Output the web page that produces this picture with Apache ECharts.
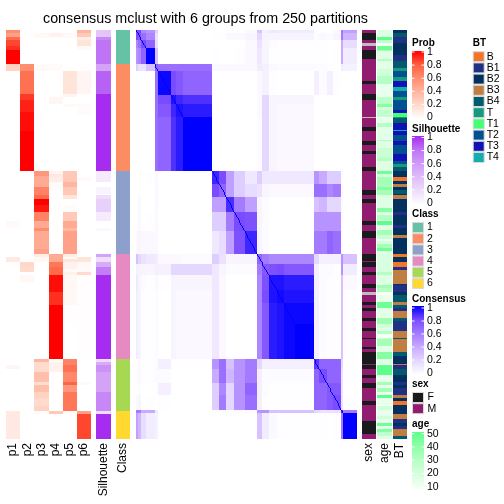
<!DOCTYPE html>
<html><head><meta charset="utf-8">
<script src="https://cdn.jsdelivr.net/npm/echarts@6/dist/echarts.min.js"></script>
<style>html,body{margin:0;padding:0;background:#fff}#c{width:504px;height:504px}</style>
</head><body><div id="c"></div>
<script>
// ---------- data: runs of [value, endRow] along the 250 sorted rows ----------
const p1=[[.6,2],[.5,4],[.75,6],[.85,10],[.9,12],[1,21],[.25,25],[0,117],[.03,121],[0,139],[.12,142],[0,205],[.05,207],[0,233],[.12,250]];
const p2=[[0,21],[.6,25],[.72,39],[.88,43],[.93,50],[.97,62],[1,86],[0,142],[.22,145],[.2,148],[0,150],[.04,154],[0,250]];
const p3=[[0,2],[.03,5],[0,21],[.03,25],[0,86],[.55,89],[.45,96],[.65,101],[.75,103],[1,107],[.95,111],[.65,117],[.45,121],[.6,123],[.45,134],[.5,137],[.1,139],[.04,142],[0,201],[.4,203],[.2,209],[.35,215],[.18,217],[.35,221],[.25,225],[.2,230],[.25,233],[.02,235],[0,250]];
const p4=[[0,2],[.08,4],[0,21],[.02,25],[0,41],[.05,45],[0,86],[.06,88],[.12,90],[.1,93],[.02,98],[0,137],[.45,142],[.7,145],[.75,150],[.97,160],[.9,168],[1,201],[0,203],[.08,209],[0,233],[.3,235],[0,250]];
const p5=[[0,2],[.03,5],[0,25],[.15,39],[.05,41],[0,45],[.03,47],[0,86],[.3,93],[.4,96],[.3,101],[.15,103],[0,107],[.02,111],[.3,117],[.45,121],[.38,123],[.5,137],[.1,139],[.03,140],[.15,142],[.07,146],[.03,148],[.08,150],[.04,168],[.01,180],[0,201],[.65,205],[.72,209],[.62,215],[.78,217],[.55,221],[.7,233],[.03,235],[0,250]];
const p6=[[.4,2],[.3,4],[.1,6],[.15,10],[.03,12],[0,21],[.01,25],[.05,39],[0,45],[.02,52],[0,90],[.03,92],[0,139],[.15,142],[.03,148],[.2,150],[.01,201],[0,215],[.03,217],[0,233],[.5,235],[.85,250]];
const silhouette=[[.35,4],[.7,6],[.8,21],[.55,25],[.85,39],[1,86],[.12,93],[0,96],[.07,100],[0,101],[.2,103],[.28,111],[.12,117],[0,121],[.05,123],[0,137],[.55,139],[.2,142],[.5,145],[.75,150],[1,201],[.2,203],[.5,205],[.65,209],[.55,221],[.7,233],[.2,235],[1,250]];
const classRuns=[[1,21],[2,86],[3,137],[4,201],[5,233],[6,250]];
const sexRuns=[['M',2],['F',6],['M',8],['NA',10],['M',12],['F',18],['M',31],['F',33],['M',39],['F',43],['M',53],['NA',54],['M',59],['F',62],['M',68],['F',70],['M',74],['F',76],['M',84],['F',86],['M',98],['F',101],['M',103],['F',106],['M',117],['F',119],['M',123],['F',127],['M',137],['F',141],['M',142],['F',145],['M',148],['F',150],['M',155],['F',158],['M',160],['NA',162],['M',166],['F',168],['M',170],['F',172],['M',176],['F',178],['M',182],['F',184],['M',188],['F',189],['M',194],['F',195],['M',197],['F',204],['M',205],['F',207],['M',211],['F',213],['M',216],['F',219],['M',227],['F',229],['M',239],['F',247],['M',250]];
const ageRuns=[[18,4],[50,6],[26,8],[0,10],[46,12],[34,13],[18,18],[30,19],[16,24],[22,28],[30,33],[14,41],[28,45],[42,47],[22,49],[26,53],[0,54],[14,57],[30,59],[16,67],[30,68],[18,72],[24,78],[30,80],[18,86],[46,88],[22,90],[34,96],[42,98],[34,101],[18,109],[42,111],[18,113],[30,116],[18,117],[50,119],[18,122],[34,125],[24,128],[12,129],[22,131],[34,133],[46,135],[18,137],[20,148],[30,150],[18,156],[36,158],[30,160],[0,162],[14,166],[46,170],[16,176],[36,180],[22,182],[18,184],[30,186],[0,188],[22,189],[34,193],[16,197],[42,201],[18,204],[10,205],[50,211],[14,215],[34,217],[14,219],[34,221],[14,223],[50,225],[14,229],[0,230],[22,232],[14,236],[22,238],[14,240],[46,242],[14,244],[42,246],[26,248],[18,250]];
const btRuns=[['B2',2],['B4',4],['B1',8],['B2',15],['B1',19],['B4',23],['T',25],['T2',29],['T',31],['T3',35],['T4',37],['T2',41],['T',43],['T2',49],['T3',51],['T1',53],['T',54],['B4',57],['T3',61],['T4',62],['T3',64],['T2',68],['T3',70],['T2',76],['T3',80],['T2',82],['T',84],['B4',86],['B2',90],['B',92],['B2',94],['B3',96],['B2',98],['B4',100],['B2',101],['B3',103],['B2',111],['B1',113],['B2',119],['B1',121],['B2',125],['B3',127],['B2',137],['B',139],['B2',142],['B',145],['B1',147],['B3',155],['B2',156],['B1',160],['B2',162],['B4',166],['B3',168],['B4',170],['B1',172],['B3',176],['B4',178],['B1',184],['B3',188],['B4',189],['B3',197],['B4',199],['B2',204],['B3',205],['B1',207],['B4',211],['B2',215],['B1',217],['B2',219],['B1',223],['B3',225],['B2',227],['B',229],['B2',235],['B3',238],['B1',240],['B2',242],['B1',244],['B3',248],['B4',250]];
const pNames=['p1','p2','p3','p4','p5','p6'];
const btNames=['B','B1','B2','B3','B4','T','T1','T2','T3','T4'];
const sexNames=['F','M'];
const classNames=['1','2','3','4','5','6'];
// consensus: end row of each block, then lower triangle of block-mean values
const blockEnds=[2,6,11,21,25,40,45,53,86,94,102,111,123,137,143,150,159,167,180,201,207,216,223,232,234,250];
const consensus=[
[.8],
[.8,.75],
[.55,.65,.8],
[.5,.55,.7,1],
[.25,.15,.15,.3,.7],
[0,0,0,0,.65,.98],
[0,0,0,0,.65,.8,.95],
[0,0,0,0,.65,.75,.9,.95],
[0,0,0,0,.65,.7,.87,.93,1],
[0,.01,0,.01,.03,0,0,0,0,.9],
[0,.01,0,0,.03,0,0,0,0,.8,.7],
[0,.03,0,0,.03,0,0,0,0,.45,.45,.88],
[0,.03,0,.01,.03,0,0,0,0,.25,.25,.6,.8],
[.03,.05,.03,.03,.03,0,0,0,0,.12,.18,.45,.78,.9],
[.3,.2,.15,.12,.1,.03,.03,.03,.02,.25,.15,.05,.05,.05,.7],
[.08,.06,.05,.05,.08,.07,.2,.2,.2,.12,.05,.02,.02,.02,.6,.75],
[.12,.05,.02,.01,.03,.01,.05,.05,.05,.12,.03,0,0,0,.55,.78,.95],
[.1,.06,.01,.01,.02,0,.05,.03,.03,.12,.03,0,0,0,.55,.8,.95,.97],
[.1,.06,.01,.01,.02,0,.05,.03,.03,.12,.03,0,0,0,.55,.75,.93,.95,.98],
[.1,.06,.01,.01,.02,0,.05,.03,.03,.12,.03,0,0,0,.55,.75,.93,.95,.98,1],
[0,.02,.01,.01,.02,.08,0,0,0,.5,.65,.3,.5,.6,.2,.08,.08,.08,.08,.08,.85],
[.01,.03,.01,.01,.02,.02,0,0,0,.4,.65,.35,.5,.6,.08,.02,.02,.02,.02,.02,.7,.8],
[0,.02,0,0,.01,.08,0,0,0,.25,.55,.2,.5,.7,.08,.02,.01,.01,.01,.01,.7,.7,.75],
[.03,.05,0,.01,0,.01,0,0,0,.25,.6,.2,.5,.65,.08,.01,.01,.01,.01,.01,.7,.7,.75,.8],
[.6,.6,.4,.4,.1,0,0,0,0,.02,.02,.02,.02,.02,.5,.5,.3,.3,.3,.3,.2,.15,.15,.15,.9],
[.45,.35,.18,.1,.07,0,0,0,0,0,0,0,0,0,.3,.1,.03,.01,.01,.01,.01,.01,0,.01,.6,1]
];
// ---------- tick labels ----------
const probTicks=['1','0.8','0.6','0.4','0.2','0'];
const ageTicks=['50','40','30','20','10'];
// ---------- colours ----------
const redRamp=['#FFFFFF','#FFDBCE','#FFB59F','#FF8D70','#FF5F3F','#FF0000'];
const purpleRamp=['#FFFFFF','#EFDDFC','#E0BCF9','#D09AF7','#BE74F4','#A62CF0'];
const blueRamp=['#FFFFFF','#E5D8FF','#C8ABFF','#A47BFF','#7A4CFF','#0000FF'];
const greenRamp=['#F5FFF6','#D8FFDF','#B4FFC3','#8FFFA8','#5CFF8C'];
const classColors=['#66C2A5','#FC8D62','#8DA0CB','#E78AC3','#A6D854','#FFD92F'];
const sexColors=['#181A1C','#921C70'];
const naColor='#BEBEBE';
const btColors=['#F4752A','#1F3185','#02305F','#C17E42','#025A6E','#159A80','#44FF75','#01508F','#0D14B3','#12ADAD'];
const FONT='"Liberation Sans",Arial,sans-serif';

const ROWS=250;
const rowCats=Array.from({length:ROWS},(_,i)=>String(i));
function expand(runs){const o=[];let s=0;for(const [v,e] of runs){for(let i=s;i<e;i++)o.push(v);s=e;}return o;}
function colCells(col,runs,map){const a=expand(runs),o=[];a.forEach((v,r)=>{const w=map?map(v):v;if(w!==0||map)o.push([col,r,w]);});return o;}

const pData=[];[p1,p2,p3,p4,p5,p6].forEach((r,c)=>pData.push(...colCells(c,r)));
const consData=[];
(function(){
  const b=i=>[i?blockEnds[i-1]:0,blockEnds[i]];
  consensus.forEach((row,i)=>row.forEach((v,j)=>{
    if(!v)return;
    const [r0,r1]=b(i),[c0,c1]=b(j);
    for(let r=r0;r<r1;r++)for(let c=c0;c<c1;c++){
      if(i===j&&r===c)continue;
      consData.push([c,r,v]);
      if(i!==j)consData.push([r,c,v]);
    }
  }));
  for(let r=0;r<ROWS;r++)consData.push([r,r,1]);
})();

// ---------- layout ----------
const TOP=30,BOTTOM=65;
const grids=[[6,85],[96,15],[116,14],[136,221],[362,14],[377,15],[393,14]];
const xNames=[pNames,['Silhouette'],['Class'],rowCats,['sex'],['age'],['BT']];
const grid=grids.map(g=>({left:g[0],width:g[1],top:TOP,bottom:BOTTOM,containLabel:false}));
const xAxis=xNames.map((n,i)=>({type:'category',gridIndex:i,data:n,position:'bottom',axisLine:{show:false},axisTick:{show:false},splitLine:{show:false},
  axisLabel:{show:i!==3,rotate:90,margin:4,interval:0,fontFamily:FONT,fontSize:12,color:'#000'}}));
const yAxis=xNames.map((n,i)=>({type:'category',gridIndex:i,data:rowCats,inverse:true,show:false}));
// one cell per row/column through the axis scales, snapped to whole pixels so neighbours never seam
function cell(params,api){
  const p=api.coord([api.value(0),api.value(1)]),s=api.size([1,1]);
  const x0=Math.round(p[0]-s[0]/2),x1=Math.round(p[0]+s[0]/2),y0=Math.round(p[1]-s[1]/2),y1=Math.round(p[1]+s[1]/2);
  return {type:'rect',silent:true,shape:{x:x0,y:y0,width:Math.max(x1-x0,1),height:Math.max(y1-y0,1)},style:{fill:api.visual('color')}};
}
function hm(i,data){return {type:'custom',coordinateSystem:'cartesian2d',xAxisIndex:i,yAxisIndex:i,data,silent:true,progressive:0,animation:false,clip:false,renderItem:cell,encode:{x:0,y:1}};}
const series=[
 hm(0,pData),
 hm(1,colCells(0,silhouette)),
 hm(2,colCells(0,classRuns,v=>v)),
 hm(3,consData),
 hm(4,colCells(0,sexRuns,v=>v==='NA'?-1:sexNames.indexOf(v))),
 hm(5,colCells(0,ageRuns,v=>v)),
 hm(6,colCells(0,btRuns,v=>btNames.indexOf(v)))
];
const cont=(s,ramp,min=0,max=1)=>({type:'continuous',seriesIndex:s,show:false,min,max,dimension:2,inRange:{color:ramp},outOfRange:{color:[naColor]}});
const pieces=(s,vals,cols)=>({type:'piecewise',seriesIndex:s,show:false,dimension:2,pieces:vals.map((v,i)=>({value:v,color:cols[i]}))});
const visualMap=[
 cont(0,redRamp),cont(1,purpleRamp),
 pieces(2,[1,2,3,4,5,6],classColors),
 cont(3,blueRamp),
 pieces(4,[-1,0,1],[naColor,...sexColors]),
 cont(5,greenRamp,10,50),
 pieces(6,btNames.map((_,i)=>i),btColors)
];

// ---------- legends ----------
const g=[];
function txt(x,y,t,bold){g.push({type:'text',x,y,style:{text:t,fontFamily:FONT,fontSize:bold?10:10.5,fontWeight:bold?'bold':'normal',fill:'#000',textVerticalAlign:'middle',textAlign:'left'}});}
function gradBar(x,y0,y1,ramp,ticks,labY0,labY1,title,titleY){
  txt(x,titleY,title,true);
  const n=ramp.length-1;
  g.push({type:'rect',shape:{x,y:y0,width:12,height:y1-y0},style:{fill:{type:'linear',x:0,y:1,x2:0,y2:0,colorStops:ramp.map((c,i)=>({offset:i/n,color:c}))}}});
  ticks.forEach((t,i)=>{
    const y=labY0+(labY1-labY0)*i/(ticks.length-1);
    txt(x+15,y,t);
    g.push({type:'line',shape:{x1:x,y1:y,x2:x+2.5,y2:y},style:{stroke:'#fff',lineWidth:1}});
    g.push({type:'line',shape:{x1:x+9.5,y1:y,x2:x+12,y2:y},style:{stroke:'#fff',lineWidth:1}});
  });
}
function swatches(x,titleY,title,firstY,names,cols,labDx){
  txt(x,titleY,title,true);
  names.forEach((nm,i)=>{
    const y=firstY+i*11.2;
    g.push({type:'rect',shape:{x:x+.5,y:y-5,width:11,height:10},style:{fill:cols[i],stroke:'#d9d9d9',lineWidth:1}});
    txt(x+labDx,y,nm);
  });
}
gradBar(412,51,119,redRamp,probTicks,52,117.5,'Prob',43);
gradBar(412,136,205,purpleRamp,probTicks,137.5,203,'Silhouette',129);
swatches(412,214,'Class',227.5,classNames,classColors,15);
gradBar(412,306,375,blueRamp,probTicks,308,373,'Consensus',299);
swatches(412,384,'sex',397.5,sexNames,sexColors,15.5);
gradBar(412,432,489,greenRamp,ageTicks,433.7,486.7,'age',424);
swatches(472.7,43.3,'BT',56.7,btNames,btColors,14);

const chart=echarts.init(document.getElementById('c'),null,{renderer:'canvas'});
chart.setOption({animation:false,backgroundColor:'#fff',
  title:{text:'consensus mclust with 6 groups from 250 partitions',left:43,top:12,padding:0,textStyle:{fontFamily:FONT,fontSize:14.3,fontWeight:'normal',color:'#000'}},
  grid,xAxis,yAxis,visualMap,series,graphic:{elements:g}});
</script></body></html>
